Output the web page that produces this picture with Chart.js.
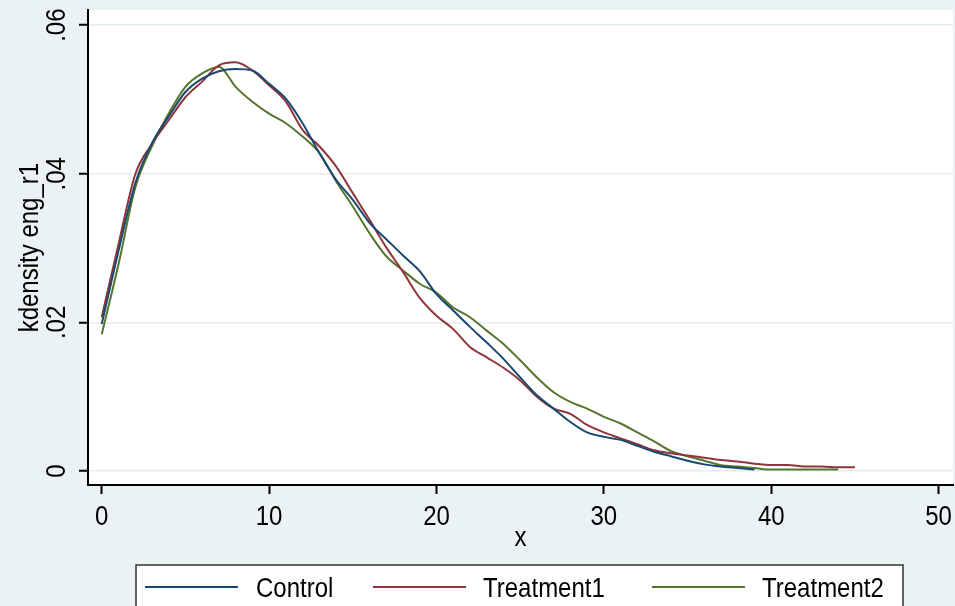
<!DOCTYPE html>
<html>
<head>
<meta charset="utf-8">
<script src="https://cdn.jsdelivr.net/npm/chart.js@4/dist/chart.umd.min.js"></script>
<style>
  html, body { margin: 0; padding: 0; background: #eaf2f3; }
  #wrap { width: 955px; height: 606px; }
</style>
</head>
<body>
<div id="wrap"><canvas id="c" width="955" height="606"></canvas></div>
<script>
// ---- data ----
const xValues = [0,1,2,3,4,5,6,7,8,9,10,11,12,13,14,15,16,17,18,19,20,21,22,23,24,25,26,27,28,29,30,31,32,33,34,35,36,37,38,39,40,41,42,43,44,45];
const control = [0.0198,0.0296,0.0387,0.0441,0.0477,0.0510,0.0528,0.0538,0.0541,0.0539,0.0521,0.0501,0.0468,0.0428,0.0392,0.0365,0.0334,0.0312,0.0290,0.0269,0.0238,0.0216,0.0194,0.0173,0.0151,0.0126,0.0102,0.0084,0.0066,0.0052,0.0046,0.0042,0.0034,0.0026,0.0020,0.0014,0.0009,0.0006,0.0004,0.0002];
const treatment1 = [0.0207,0.0305,0.0399,0.0440,0.0472,0.0503,0.0524,0.0546,0.0550,0.0539,0.0519,0.0497,0.0459,0.0437,0.0410,0.0374,0.0338,0.0301,0.0268,0.0233,0.0209,0.0191,0.0167,0.0153,0.0139,0.0122,0.0100,0.0084,0.0077,0.0062,0.0052,0.0044,0.0036,0.0028,0.0024,0.0021,0.0018,0.0015,0.0013,0.0010,0.0008,0.0008,0.0006,0.0006,0.0005,0.0005];
const treatment2 = [0.0184,0.0278,0.0381,0.0437,0.0481,0.0517,0.0535,0.0544,0.0517,0.0497,0.0481,0.0468,0.0450,0.0428,0.0390,0.0356,0.0320,0.0289,0.0270,0.0252,0.0240,0.0220,0.0207,0.0189,0.0171,0.0149,0.0126,0.0106,0.0093,0.0084,0.0073,0.0064,0.0052,0.0040,0.0027,0.0020,0.0014,0.0008,0.0006,0.0004,0.0002,0.0002,0.0002,0.0002,0.0002];
const seriesNames = ["Control", "Treatment1", "Treatment2"];
const xTicks = [0, 10, 20, 30, 40, 50];
const xTickLabels = ["0", "10", "20", "30", "40", "50"];
const yTicks = [0, 0.02, 0.04, 0.06];
const yTickLabels = ["0", ".02", ".04", ".06"];
const xTitle = "x";
const yTitle = "kdensity eng_r1";

// ---- styling ----
const colors = ["#1a476f", "#90353b", "#55752f"];
const BG = "#eaf2f3";
const FONT = "24px 'Liberation Sans', Arial, sans-serif";
const VSTRETCH = 1.12;

function pts(ys) { return ys.map((y, i) => ({ x: xValues[i], y: y })); }

const allSeries = [control, treatment1, treatment2];

const customDraw = {
  id: 'customDraw',
  beforeDraw(chart) {
    const ctx = chart.ctx, a = chart.chartArea;
    ctx.save();
    ctx.fillStyle = BG;
    ctx.fillRect(0, 0, chart.width, chart.height);
    ctx.fillStyle = "#ffffff";
    ctx.fillRect(a.left, a.top, a.right - a.left, a.bottom - a.top);
    ctx.restore();
  },
  afterDraw(chart) {
    const ctx = chart.ctx, a = chart.chartArea;
    const xs = chart.scales.x, ys = chart.scales.y;
    ctx.save();
    ctx.fillStyle = "#000";
    ctx.font = FONT;
    // y tick labels (rotated)
    yTicks.forEach((v, i) => {
      const py = ys.getPixelForValue(v);
      ctx.save();
      ctx.translate(65, py);
      ctx.rotate(-Math.PI / 2);
      ctx.scale(1, VSTRETCH);
      ctx.textAlign = "center";
      ctx.textBaseline = "alphabetic";
      ctx.fillText(yTickLabels[i], 0, 0);
      ctx.restore();
    });
    // y title
    ctx.save();
    ctx.translate(38, (a.top + a.bottom) / 2);
    ctx.rotate(-Math.PI / 2);
    ctx.scale(1, VSTRETCH);
    ctx.textAlign = "center";
    ctx.textBaseline = "alphabetic";
    ctx.fillText(yTitle, 0, 0);
    ctx.restore();
    // x tick labels
    xTicks.forEach((v, i) => {
      const px = xs.getPixelForValue(v);
      ctx.save();
      ctx.translate(px, 525);
      ctx.scale(1, VSTRETCH);
      ctx.textAlign = "center";
      ctx.textBaseline = "alphabetic";
      ctx.fillText(xTickLabels[i], 0, 0);
      ctx.restore();
    });
    // x title
    ctx.save();
    ctx.translate((a.left + a.right) / 2, 546);
    ctx.scale(1, VSTRETCH);
    ctx.textAlign = "center";
    ctx.textBaseline = "alphabetic";
    ctx.fillText(xTitle, 0, 0);
    ctx.restore();
    // legend box
    ctx.fillStyle = "#ffffff";
    ctx.fillRect(136, 565, 767, 60);
    ctx.strokeStyle = "#333333";
    ctx.lineWidth = 1.5;
    ctx.strokeRect(136, 565, 767, 60);
    const lineX = [145, 373, 652];
    const textX = [256, 483, 762];
    for (let i = 0; i < 3; i++) {
      ctx.strokeStyle = colors[i];
      ctx.lineWidth = 2;
      ctx.beginPath();
      ctx.moveTo(lineX[i], 587);
      ctx.lineTo(lineX[i] + 93, 587);
      ctx.stroke();
      ctx.save();
      ctx.fillStyle = "#000";
      ctx.translate(textX[i], 597);
      ctx.scale(1, VSTRETCH);
      ctx.textAlign = "left";
      ctx.textBaseline = "alphabetic";
      ctx.fillText(seriesNames[i], 0, 0);
      ctx.restore();
    }
    ctx.restore();
  }
};

new Chart(document.getElementById('c'), {
  type: 'line',
  data: {
    datasets: allSeries.map((s, i) => ({
      label: seriesNames[i],
      data: pts(s),
      borderColor: colors[i],
      backgroundColor: colors[i],
      borderWidth: 2,
      pointRadius: 0,
      fill: false,
      cubicInterpolationMode: 'monotone'
    }))
  },
  options: {
    responsive: false,
    animation: false,
    layout: { padding: { top: 8, right: 2, left: 0, bottom: 0 } },
    plugins: { legend: { display: false }, tooltip: { enabled: false } },
    scales: {
      x: {
        type: 'linear',
        min: -0.82,
        max: 50.86,
        afterBuildTicks(scale) { scale.ticks = xTicks.map(v => ({ value: v })); },
        afterFit(scale) { scale.height = 121; },
        grid: { drawOnChartArea: false, drawTicks: true, tickLength: 9, tickWidth: 2, tickColor: '#000' },
        border: { display: true, color: '#000', width: 2 },
        ticks: { color: 'rgba(0,0,0,0)', font: { size: 24 } }
      },
      y: {
        type: 'linear',
        min: -0.001875,
        max: 0.06201,
        afterBuildTicks(scale) { scale.ticks = yTicks.map(v => ({ value: v })); },
        afterFit(scale) { scale.width = 88; },
        grid: { color: '#e3edef', lineWidth: 1.5, drawTicks: true, tickLength: 9, tickWidth: 2, tickColor: '#000' },
        border: { display: true, color: '#000', width: 2 },
        ticks: { color: 'rgba(0,0,0,0)', font: { size: 12 } }
      }
    }
  },
  plugins: [customDraw]
});
</script>
</body>
</html>
